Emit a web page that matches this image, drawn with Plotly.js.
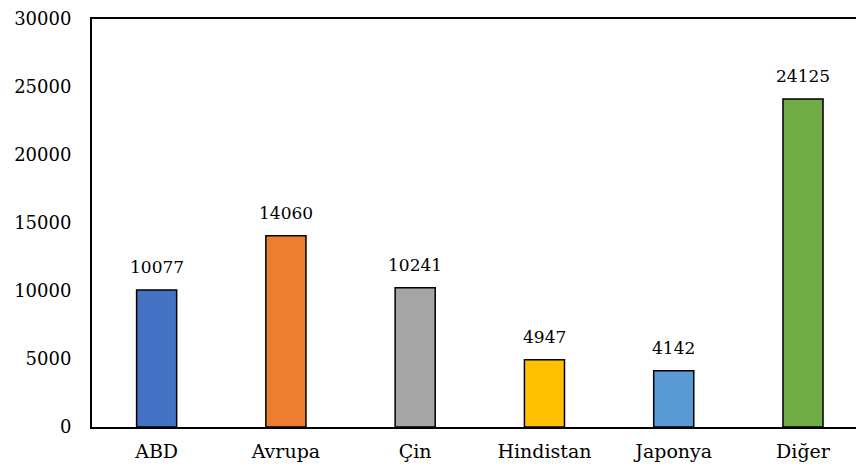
<!DOCTYPE html>
<html>
<head>
<meta charset="utf-8">
<script src="https://cdn.plot.ly/plotly-3.0.1.min.js"></script>
<style>
  html, body { margin: 0; padding: 0; background: #ffffff; overflow: hidden; }
  #chart { width: 856px; height: 468px; }
</style>
</head>
<body>
<div id="chart"></div>
<script>
// Regions and their values
const categories = ['ABD', 'Avrupa', 'Çin', 'Hindistan', 'Japonya', 'Diğer'];
const values = [10077, 14060, 10241, 4947, 4142, 24125];
const barColors = ['#4472C4', '#ED7D31', '#A5A5A5', '#FFC000', '#5B9BD5', '#70AD47'];
const yTicks = [0, 5000, 10000, 15000, 20000, 25000, 30000];

const serif = 'DejaVu Serif, serif';

const trace = {
  type: 'bar',
  x: categories,
  y: values,
  width: 0.31,
  marker: { color: barColors, line: { color: '#000000', width: 1.5 } },
  hoverinfo: 'skip'
};

// Value labels above each bar
const annotations = categories.map((c, i) => ({
  x: c,
  y: values[i],
  xref: 'x',
  yref: 'y',
  text: String(values[i]),
  showarrow: false,
  yanchor: 'bottom',
  yshift: 11,
  font: { family: serif, size: 17, color: '#000000' }
}));

const layout = {
  width: 856,
  height: 468,
  margin: { l: 92, r: 0, t: 19, b: 41, pad: 0 },
  paper_bgcolor: '#ffffff',
  plot_bgcolor: '#ffffff',
  showlegend: false,
  font: { family: serif, color: '#000000' },
  xaxis: {
    type: 'category',
    range: [-0.5, 5.41],
    showline: true,
    linecolor: '#000000',
    linewidth: 2,
    mirror: true,
    showgrid: false,
    zeroline: false,
    ticks: '',
    ticklabelstandoff: 6,
    tickfont: { family: serif, size: 19, color: '#000000' }
  },
  yaxis: {
    range: [0, 30000],
    tickvals: yTicks,
    ticktext: yTicks.map(String),
    showline: true,
    linecolor: '#000000',
    linewidth: 2,
    showgrid: false,
    zeroline: false,
    ticks: '',
    ticklabelstandoff: 15,
    tickfont: { family: serif, size: 18, color: '#000000' }
  },
  annotations: annotations
};

Plotly.newPlot('chart', [trace], layout, { displayModeBar: false, staticPlot: true });
</script>
</body>
</html>
